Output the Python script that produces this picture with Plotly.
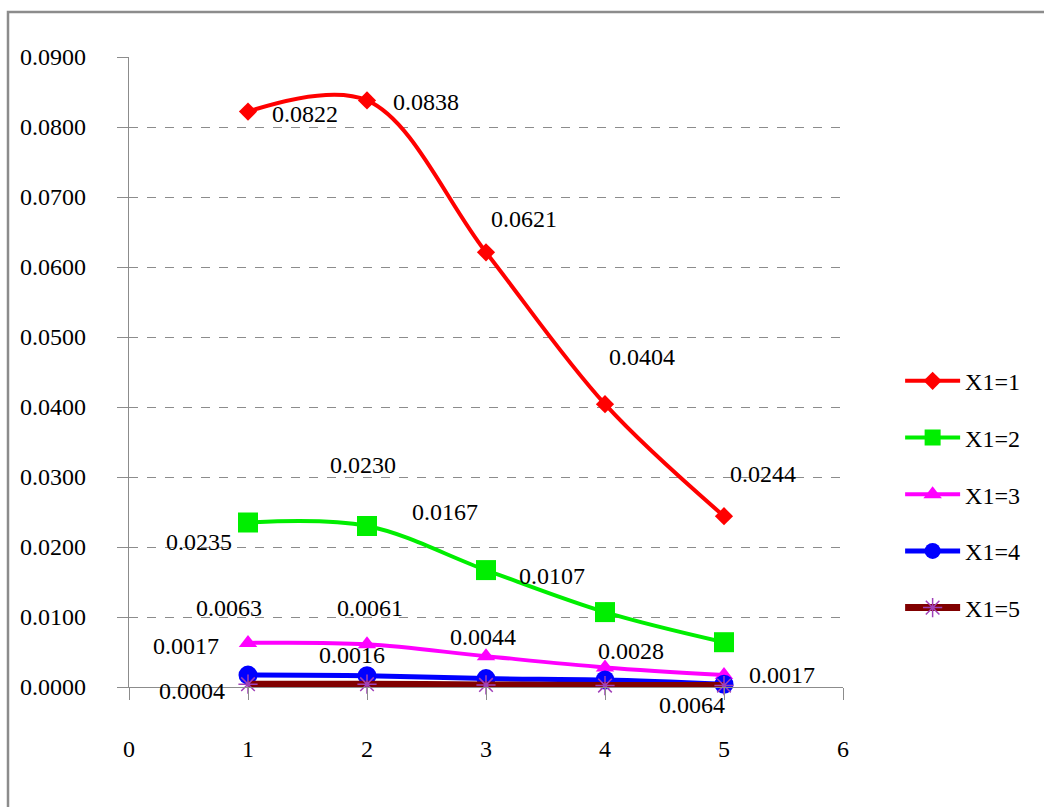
import plotly.graph_objects as go

# Input levels on the horizontal axis
x_levels = [1, 2, 3, 4, 5]

# Response for each X1 setting
x1_1 = [0.0822, 0.0838, 0.0621, 0.0404, 0.0244]
x1_2 = [0.0235, 0.0230, 0.0167, 0.0107, 0.0064]
x1_3 = [0.0063, 0.0061, 0.0044, 0.0028, 0.0017]
x1_4 = [0.0017, 0.0016, 0.0012, 0.0010, 0.0004]
x1_5 = [0.0004, 0.0004, 0.0003, 0.0002, 0.0002]

series_names = ["X1=1", "X1=2", "X1=3", "X1=4", "X1=5"]
y_ticks = [0.0, 0.01, 0.02, 0.03, 0.04, 0.05, 0.06, 0.07, 0.08, 0.09]
x_ticks = [0, 1, 2, 3, 4, 5, 6]

series_values = [x1_1, x1_2, x1_3, x1_4, x1_5]

# Styling per series: line colour, line width, marker symbol, size, marker colour
styles = [
    dict(color="#FF0000", width=4, symbol="diamond", size=14, mcolor="#FF0000", mline=0),
    dict(color="#00EE00", width=4, symbol="square", size=20, mcolor="#00EE00", mline=0),
    dict(color="#FF00FF", width=4, symbol="triangle-up", size=16, mcolor="#FF00FF", mline=0),
    dict(color="#0000FF", width=5, symbol="circle", size=19, mcolor="#0000FF", mline=0),
    dict(color="#800000", width=7, symbol="asterisk-open", size=16, mcolor="#A040B8", mline=1.5),
]

# Data-label placement: (series index, point index, x offset px, y offset px downward)
label_offsets = [
    (0, 0, 57, 2), (0, 1, 59, 2), (0, 2, 38, -33), (0, 3, 37, -47), (0, 4, 39, -42),
    (1, 0, -49, 19), (1, 1, -4, -61), (1, 2, -41, -58), (1, 3, -53, -36), (1, 4, -32, 63),
    (2, 0, -19, -35), (2, 1, 3, -36), (2, 2, -3, -19), (2, 3, 26, -16), (2, 4, 58, 0),
    (3, 0, -62, -29), (3, 1, -15, -21),
    (4, 0, -56, 7),
]

FONT = "Liberation Serif"

fig = go.Figure()
for i, (name, vals, st) in enumerate(zip(series_names, series_values, styles)):
    fig.add_trace(go.Scatter(
        x=x_levels, y=vals, name=name, mode="lines+markers",
        legendgroup=name,
        line=dict(color=st["color"], width=st["width"], shape="spline", smoothing=1.0),
        marker=dict(symbol=st["symbol"], size=st["size"], color=st["mcolor"],
                    line=dict(width=st["mline"], color=st["mcolor"])),
        cliponaxis=False,
    ))

annotations = []
for si, pi, dx, dy in label_offsets:
    v = series_values[si][pi]
    annotations.append(dict(
        x=x_levels[pi], y=v, xref="x", yref="y", text=f"{v:.4f}",
        showarrow=False, xshift=dx, yshift=-dy,
        font=dict(family=FONT, size=24, color="#000000"),
    ))

fig.update_layout(
    width=1044, height=807,
    margin=dict(l=129, r=201, t=57, b=120),
    paper_bgcolor="white", plot_bgcolor="white",
    font=dict(family=FONT, size=24, color="#000000"),
    showlegend=True,
    legend=dict(x=1.08, y=0.306, xanchor="left", yanchor="middle",
                font=dict(family=FONT, size=24, color="#000000"),
                tracegroupgap=22.5, itemwidth=55, bgcolor="rgba(0,0,0,0)"),
    annotations=annotations,
    shapes=[dict(type="rect", xref="paper", yref="paper",
                 x0=(8 - 129) / 714, x1=1.4, y0=-0.3, y1=(687 - 12) / 630,
                 line=dict(color="#8C8C8C", width=2.5), fillcolor="rgba(0,0,0,0)",
                 layer="below")],
)

fig.update_xaxes(
    range=[0, 6], tickvals=x_ticks, ticktext=[str(t) for t in x_ticks],
    showgrid=False, zeroline=False,
    showline=True, linecolor="#8C8C8C", linewidth=1.2,
    ticks="outside", ticklen=12, tickcolor="#8C8C8C", tickwidth=1.2,
    ticklabelstandoff=28,
    tickfont=dict(family=FONT, size=24, color="#000000"),
)
fig.update_yaxes(
    range=[0, 0.09], tickvals=y_ticks, ticktext=[f"{t:.4f}" for t in y_ticks],
    showgrid=True, gridcolor="#8C8C8C", griddash="dash", gridwidth=1,
    zeroline=False,
    showline=True, linecolor="#8C8C8C", linewidth=1.2,
    ticks="outside", ticklen=11, tickcolor="#8C8C8C", tickwidth=1.2,
    ticklabelstandoff=26,
    tickfont=dict(family=FONT, size=24, color="#000000"),
)

fig.write_html("out.html")
